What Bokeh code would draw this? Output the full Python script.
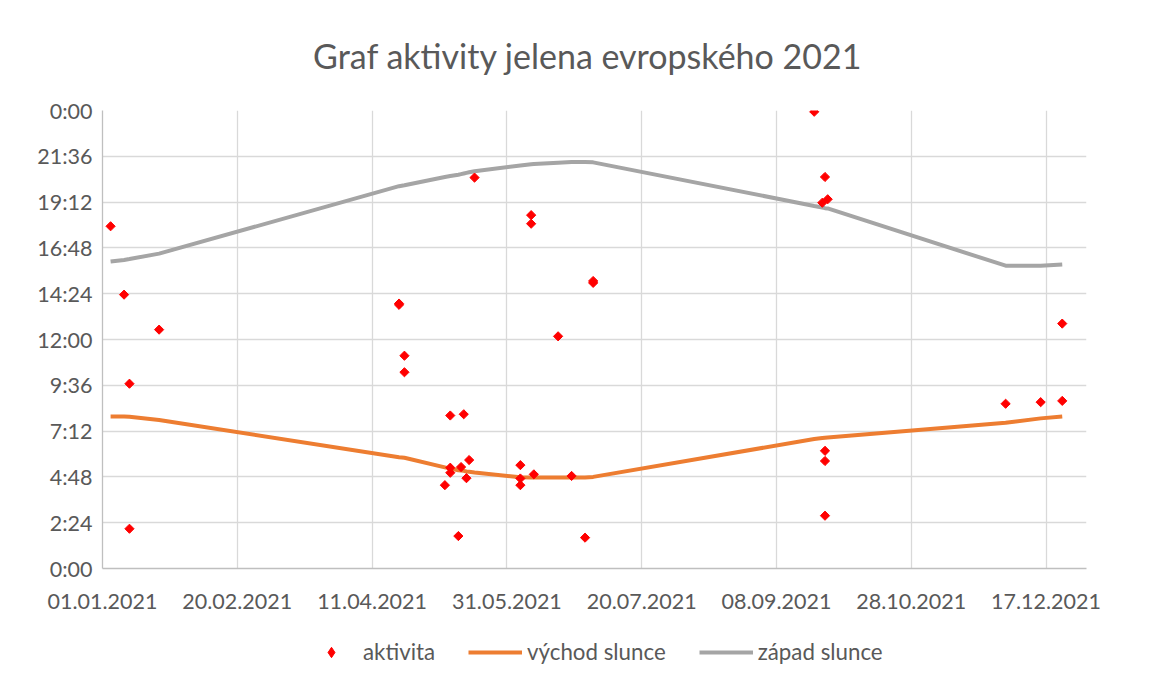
import datetime as dt
from bokeh.plotting import figure
from bokeh.layouts import column
from bokeh.models import (Range1d, FixedTicker, Legend, LegendItem,
                          ColumnDataSource, Label)
from bokeh.embed import file_html
from bokeh.resources import INLINE

# ---------------- data ----------------
obs_dates = [
    "2021-01-04", "2021-01-09", "2021-01-11", "2021-01-11", "2021-01-22",
    "2021-04-21", "2021-04-21", "2021-04-23", "2021-04-23",
    "2021-05-08", "2021-05-10", "2021-05-10", "2021-05-10", "2021-05-13",
    "2021-05-14", "2021-05-15", "2021-05-16", "2021-05-17", "2021-05-19",
    "2021-06-05", "2021-06-05", "2021-06-05", "2021-06-09", "2021-06-09",
    "2021-06-10", "2021-06-19", "2021-06-24", "2021-06-29",
    "2021-07-02", "2021-07-02",
    "2021-09-22", "2021-09-25", "2021-09-26", "2021-09-26", "2021-09-26",
    "2021-09-26", "2021-09-27",
    "2021-12-02", "2021-12-15", "2021-12-23", "2021-12-23",
]
obs_times = [
    "17:56", "14:21", "9:41", "2:05", "12:31",
    "13:53", "13:49", "11:09", "10:17",
    "4:22", "8:01", "5:17", "5:01", "1:42",
    "5:19", "8:05", "4:44", "5:41", "20:29",
    "5:25", "4:43", "4:22", "18:31", "18:04",
    "4:56", "12:10", "4:51", "1:37",
    "15:04", "14:58",
    "23:56", "19:10", "20:31", "6:10", "5:38",
    "2:46", "19:21",
    "8:38", "8:43", "8:47", "12:50",
]

sun_dates = [
    "2021-01-04", "2021-01-09", "2021-01-11", "2021-01-22",
    "2021-04-21", "2021-04-23", "2021-05-08", "2021-05-10", "2021-05-13",
    "2021-05-14", "2021-05-15", "2021-05-16", "2021-05-17", "2021-05-19",
    "2021-06-05", "2021-06-09", "2021-06-10", "2021-06-19", "2021-06-24",
    "2021-06-29", "2021-07-02", "2021-09-22", "2021-09-25", "2021-09-26",
    "2021-09-27", "2021-12-02", "2021-12-15", "2021-12-23",
]
sunrise = [
    "7:58", "7:58", "7:57", "7:47",
    "5:50", "5:48", "5:18", "5:14", "5:09",
    "5:08", "5:07", "5:05", "5:04", "5:02",
    "4:47", "4:46", "4:46", "4:46", "4:46",
    "4:46", "4:48", "6:47", "6:50", "6:51",
    "6:52", "7:38", "7:52", "7:58",
]
sunset = [
    "16:05", "16:10", "16:13", "16:30",
    "20:02", "20:05", "20:31", "20:34", "20:38",
    "20:40", "20:42", "20:44", "20:46", "20:49",
    "21:07", "21:11", "21:12", "21:16", "21:18",
    "21:18", "21:17", "19:00", "18:55", "18:53",
    "18:52", "15:52", "15:52", "15:56",
]

x_tick_labels = ["01.01.2021", "20.02.2021", "11.04.2021", "31.05.2021",
                 "20.07.2021", "08.09.2021", "28.10.2021", "17.12.2021"]
y_tick_labels = ["0:00", "2:24", "4:48", "7:12", "9:36", "12:00",
                 "14:24", "16:48", "19:12", "21:36", "0:00"]

title_text = "Graf aktivity jelena evropského 2021"
legend_labels = ["aktivita", "východ slunce", "západ slunce"]

# ---------------- helpers ----------------
EPOCH = dt.datetime(1970, 1, 1)


def to_dt(s):
    return dt.datetime.strptime(s, "%Y-%m-%d")


def to_h(s):
    h, m = s.split(":")
    return int(h) + int(m) / 60.0


def ms(d):
    return (d - EPOCH).total_seconds() * 1000.0


FONT = "Lato"
TXT = "#595959"
GRID = "#d9d9d9"
RED = "#FF0000"
ORANGE = "#ED7D31"
GRAY = "#A5A5A5"

obs_src = ColumnDataSource(dict(x=[to_dt(d) for d in obs_dates],
                                y=[to_h(t) for t in obs_times]))
sun_src = ColumnDataSource(dict(x=[to_dt(d) for d in sun_dates],
                                rise=[to_h(t) for t in sunrise],
                                set=[to_h(t) for t in sunset]))

x_start = dt.datetime(2021, 1, 1)
x_end = dt.datetime(2022, 1, 1)

W = 1150
FRAME_L, FRAME_R = 102, 1086   # frame edges in page pixels
TOP_H = 96

# ---------------- title strip ----------------
tp = figure(
    width=W, height=TOP_H,
    x_range=Range1d(FRAME_L, FRAME_R), y_range=Range1d(0, TOP_H),
    x_axis_location=None, y_axis_location=None,
    min_border=0, output_backend="svg", toolbar_location=None,
    background_fill_color="white", border_fill_color="white",
)
tp.grid.visible = False
tp.outline_line_color = None
tp.add_layout(Label(
    x=587.5, y=TOP_H - 55, text=title_text,
    text_align="center", text_baseline="middle",
    text_font=FONT, text_font_size="34px", text_color=TXT,
))

# ---------------- main chart ----------------
p = figure(
    x_axis_type="datetime",
    x_range=Range1d(x_start, x_end),
    y_range=Range1d(0, 24),
    width=W, height=524,
    min_border_left=FRAME_L, min_border_right=W - FRAME_R, min_border_top=14,
    min_border_bottom=52,
    output_backend="svg", toolbar_location=None,
    background_fill_color="white", border_fill_color="white",
)
p.outline_line_color = None

# grids
p.xgrid.grid_line_color = GRID
p.ygrid.grid_line_color = GRID
p.xgrid.grid_line_width = 1.3
p.ygrid.grid_line_width = 1.3

# x axis
x_ticks = [ms(dt.datetime.strptime(s, "%d.%m.%Y")) for s in x_tick_labels]
p.xaxis.ticker = FixedTicker(ticks=x_ticks)
p.xaxis.major_label_overrides = {t: s for t, s in zip(x_ticks, x_tick_labels)}
p.xgrid.ticker = FixedTicker(ticks=x_ticks)

# y axis
y_ticks = [round(i * 2.4, 6) for i in range(len(y_tick_labels))]
p.yaxis.ticker = FixedTicker(ticks=y_ticks)
p.yaxis.major_label_overrides = {t: s for t, s in zip(y_ticks, y_tick_labels)}
p.ygrid.ticker = FixedTicker(ticks=y_ticks)

for ax in (p.xaxis, p.yaxis):
    ax.axis_line_color = "#bfbfbf"
    ax.axis_line_width = 1.3
    ax.major_tick_line_color = None
    ax.minor_tick_line_color = None
    ax.major_label_text_font = FONT
    ax.major_label_text_font_size = "21.5px"
    ax.major_label_text_color = TXT
p.xaxis.major_label_standoff = 19
p.yaxis.major_label_standoff = 4

# series
p.line("x", "rise", source=sun_src, line_color=ORANGE, line_width=4)
p.line("x", "set", source=sun_src, line_color=GRAY, line_width=4)
p.scatter("x", "y", source=obs_src, marker="square", size=6.5,
          angle=0.7853981634, fill_color=RED, line_color=RED)

# ---------------- legend strip below the chart ----------------
# Same series, drawn in a strip whose y-range lies far outside the data, so
# only the legend (with Excel-like keys) is visible there.
lg = figure(
    width=W, height=60, x_axis_type="datetime",
    x_range=Range1d(x_start, x_end), y_range=Range1d(100, 101),
    x_axis_location=None, y_axis_location=None,
    min_border=0, output_backend="svg", toolbar_location=None,
    background_fill_color="white", border_fill_color="white",
)
lg.grid.visible = False
lg.outline_line_color = None
k_obs = lg.scatter("x", "y", source=obs_src, marker="diamond",
                   fill_color=RED, line_color=RED)
k_rise = lg.line("x", "rise", source=sun_src, line_color=ORANGE, line_width=4)
k_set = lg.line("x", "set", source=sun_src, line_color=GRAY, line_width=4)

legend = Legend(items=[
    LegendItem(label=legend_labels[0], renderers=[k_obs]),
    LegendItem(label=legend_labels[1], renderers=[k_rise]),
    LegendItem(label=legend_labels[2], renderers=[k_set]),
])
legend.orientation = "horizontal"
legend.location = (202, 15)
legend.border_line_color = None
legend.background_fill_alpha = 0
legend.label_text_font = FONT
legend.label_text_font_size = "22.3px"
legend.label_text_color = TXT
legend.glyph_width = 54
legend.glyph_height = 26
legend.label_standoff = 5
legend.spacing = 33
legend.padding = 0
legend.margin = 0
lg.add_layout(legend, "center")

layout = column(tp, p, lg, spacing=0)
open("out.html", "w").write(file_html(layout, INLINE))
